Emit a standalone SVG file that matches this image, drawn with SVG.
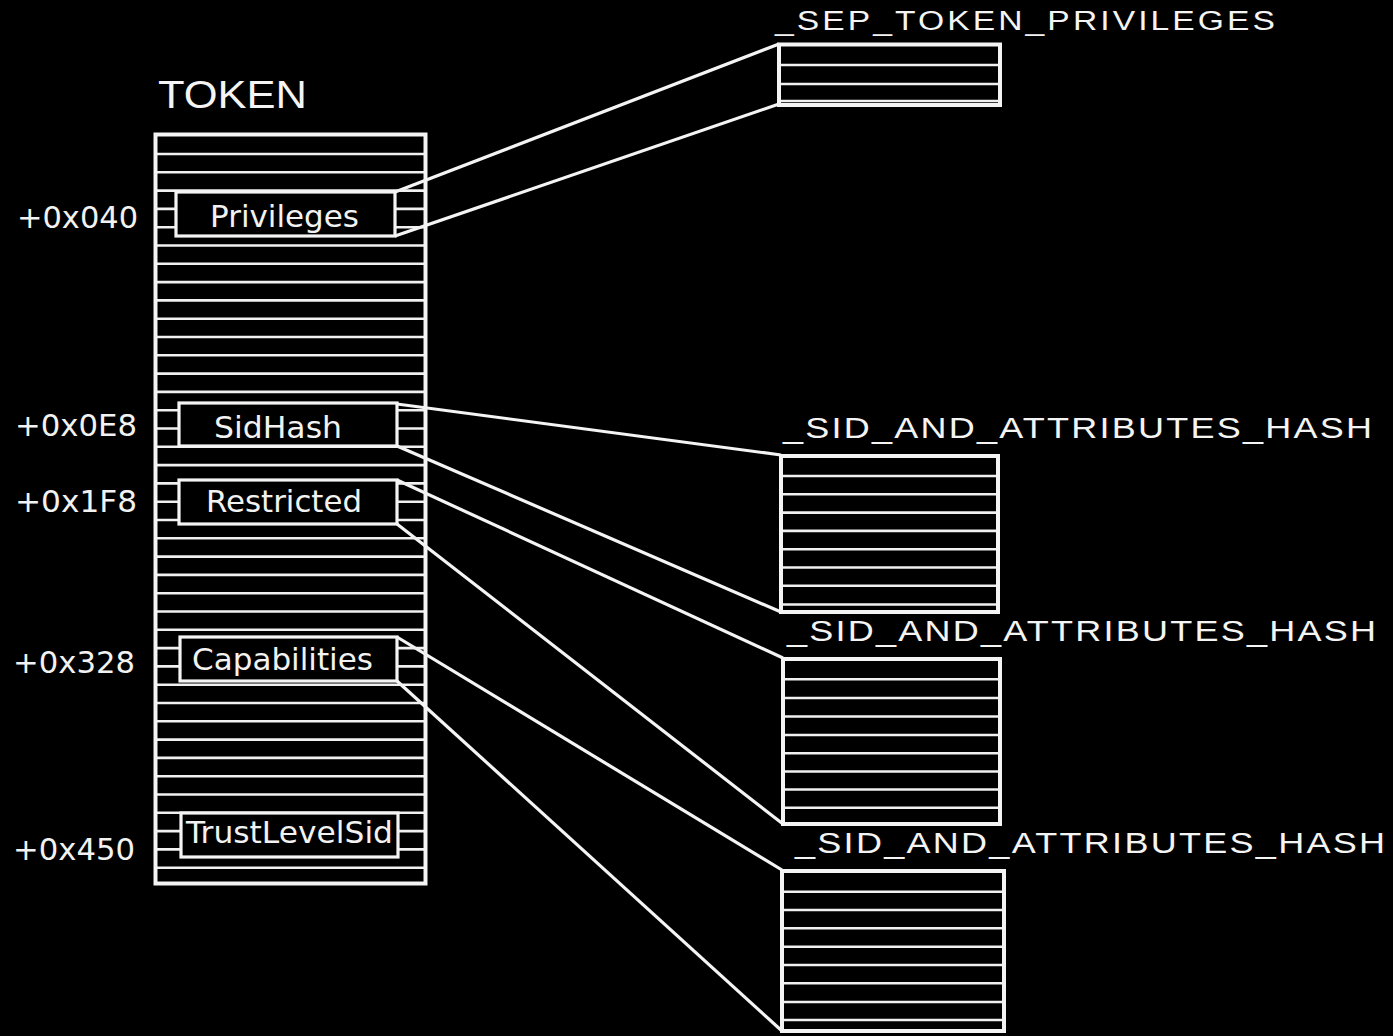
<svg xmlns="http://www.w3.org/2000/svg" width="1393" height="1036" viewBox="0 0 1393 1036">
  <style>
    .frame { fill: none; stroke: #f4f4f4; stroke-width: 4; }
    .rows { fill: none; stroke: #f0f0f0; stroke-width: 2.6; }
    .field { fill: #000; stroke: #f4f4f4; stroke-width: 3.2; }
    .link { fill: none; stroke: #f4f4f4; stroke-width: 3.2; }
    .off { font-family: "DejaVu Sans", Verdana, sans-serif; font-size: 31px; fill: #f2f2f2; }
    .fname { font-family: "DejaVu Sans", Verdana, sans-serif; font-size: 30px; fill: #f2f2f2; }
    .title { font-family: "Liberation Sans", Arial, sans-serif; fill: #f4f4f4; }
  </style>
  <rect width="1393" height="1036" fill="#000"/>

  <!-- connectors from TOKEN fields to the referenced structures -->
  <g id="connectors">
    <line class="link" x1="395" y1="192" x2="779" y2="44"/>
    <line class="link" x1="395" y1="236" x2="779" y2="104"/>
    <line class="link" x1="397" y1="404" x2="781" y2="455"/>
    <line class="link" x1="397" y1="446" x2="781" y2="612"/>
    <line class="link" x1="397" y1="480" x2="783" y2="658"/>
    <line class="link" x1="397" y1="524" x2="783" y2="824"/>
    <line class="link" x1="397" y1="637" x2="782" y2="870"/>
    <line class="link" x1="397" y1="681" x2="782" y2="1031"/>
  </g>

  <!-- TOKEN structure -->
  <g id="token">
    <text class="title" x="158" y="108" font-size="38" textLength="149" lengthAdjust="spacingAndGlyphs">TOKEN</text>
    <path class="rows" d="M156 154H425M156 172.3H425M156 190.6H425M156 208.9H425M156 227.2H425M156 245.5H425M156 263.8H425M156 282.1H425M156 300.4H425M156 318.7H425M156 337H425M156 355.3H425M156 373.6H425M156 391.9H425M156 410.2H425M156 428.5H425M156 446.8H425M156 465.1H425M156 483.4H425M156 501.7H425M156 520H425M156 538.3H425M156 556.6H425M156 574.9H425M156 593.2H425M156 611.5H425M156 629.8H425M156 648.1H425M156 666.4H425M156 684.7H425M156 703H425M156 721.3H425M156 739.6H425M156 757.9H425M156 776.2H425M156 794.5H425M156 812.8H425M156 831.1H425M156 849.4H425M156 867.7H425"/>
    <rect class="frame" x="155.5" y="134.5" width="270" height="749"/>
  </g>

  <g id="field-privileges">
    <text class="off" x="17" y="228" textLength="121" lengthAdjust="spacingAndGlyphs">+0x040</text>
    <rect class="field" x="176" y="192" width="219" height="44"/>
    <text class="fname" x="210" y="227" textLength="149" lengthAdjust="spacingAndGlyphs">Privileges</text>
  </g>

  <g id="field-sidhash">
    <text class="off" x="15" y="436" textLength="122" lengthAdjust="spacingAndGlyphs">+0x0E8</text>
    <rect class="field" x="179" y="403" width="218" height="43"/>
    <text class="fname" x="214" y="438" textLength="128" lengthAdjust="spacingAndGlyphs">SidHash</text>
  </g>

  <g id="field-restricted">
    <text class="off" x="15" y="512" textLength="122" lengthAdjust="spacingAndGlyphs">+0x1F8</text>
    <rect class="field" x="179" y="480" width="218" height="44"/>
    <text class="fname" x="206" y="512" textLength="156" lengthAdjust="spacingAndGlyphs">Restricted</text>
  </g>

  <g id="field-capabilities">
    <text class="off" x="13" y="673" textLength="122" lengthAdjust="spacingAndGlyphs">+0x328</text>
    <rect class="field" x="180" y="637" width="217" height="44"/>
    <text class="fname" x="192" y="670" textLength="181" lengthAdjust="spacingAndGlyphs">Capabilities</text>
  </g>

  <g id="field-trustlevelsid">
    <text class="off" x="13" y="860" textLength="122" lengthAdjust="spacingAndGlyphs">+0x450</text>
    <rect class="field" x="181" y="813" width="217" height="44"/>
    <text class="fname" x="186" y="843" textLength="207" lengthAdjust="spacingAndGlyphs">TrustLevelSid</text>
  </g>

  <!-- _SEP_TOKEN_PRIVILEGES (heading glyphs widened 1.2x) -->
  <g id="sep-token-privileges">
    <text class="title" transform="scale(1.2 1)" x="645.8" y="30" font-size="28" textLength="416.7" lengthAdjust="spacing">_SEP_TOKEN_PRIVILEGES</text>
    <path class="rows" d="M779 65H1000M779 84H1000M779 101H1000"/>
    <rect class="frame" x="779" y="44.5" width="221" height="60.5"/>
  </g>

  <!-- _SID_AND_ATTRIBUTES_HASH (SidHash) -->
  <g id="sid-hash-1">
    <text class="title" transform="scale(1.2 1)" x="652.5" y="438" font-size="30" textLength="490.8" lengthAdjust="spacing">_SID_AND_ATTRIBUTES_HASH</text>
    <path class="rows" d="M781 476H998M781 494.3H998M781 512.6H998M781 530.9H998M781 549.2H998M781 567.5H998M781 585.8H998M781 604.5H998"/>
    <rect class="frame" x="781" y="456" width="217" height="156"/>
  </g>

  <!-- _SID_AND_ATTRIBUTES_HASH (Restricted) -->
  <g id="sid-hash-2">
    <text class="title" transform="scale(1.2 1)" x="655.8" y="641" font-size="30" textLength="490.8" lengthAdjust="spacing">_SID_AND_ATTRIBUTES_HASH</text>
    <path class="rows" d="M783 679.3H1000M783 698H1000M783 716.5H1000M783 735H1000M783 753.3H1000M783 771.5H1000M783 789.5H1000M783 807.7H1000"/>
    <rect class="frame" x="783" y="659" width="217" height="165"/>
  </g>

  <!-- _SID_AND_ATTRIBUTES_HASH (Capabilities) -->
  <g id="sid-hash-3">
    <text class="title" transform="scale(1.2 1)" x="662.5" y="853" font-size="30" textLength="491.7" lengthAdjust="spacing">_SID_AND_ATTRIBUTES_HASH</text>
    <path class="rows" d="M782 891.7H1004M782 910H1004M782 928.3H1004M782 946.7H1004M782 965H1004M782 983.3H1004M782 1002H1004M782 1020H1004"/>
    <rect class="frame" x="782" y="871" width="222" height="160"/>
  </g>
</svg>
